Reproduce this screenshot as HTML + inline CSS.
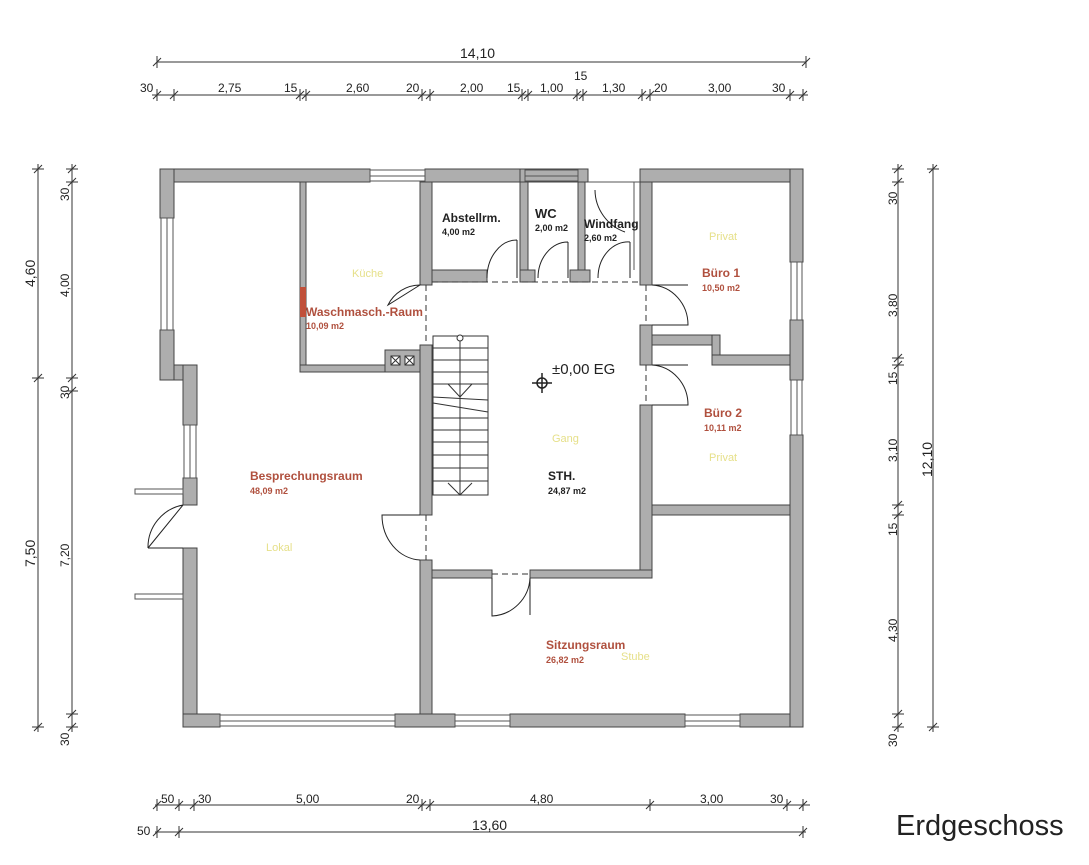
<!DOCTYPE html>
<html><head><meta charset="utf-8"><style>
html,body{margin:0;padding:0;background:#fff;}
svg{display:block;}
text{font-family:"Liberation Sans",Arial,sans-serif;}
</style></head><body>
<svg width="1089" height="865" viewBox="0 0 1089 865" xmlns="http://www.w3.org/2000/svg">
<rect width="1089" height="865" fill="#fff"/>
<g fill="#aeaeae" stroke="#444" stroke-width="1">
<rect x="160" y="169" width="210" height="13"/>
<rect x="425" y="169" width="100" height="13"/>
<rect x="520" y="169" width="68" height="13"/>
<rect x="640" y="169" width="163" height="13"/>
<rect x="160" y="169" width="14" height="49"/>
<rect x="160" y="330" width="14" height="50"/>
<rect x="174" y="365" width="23" height="15"/>
<rect x="183" y="365" width="14" height="60"/>
<rect x="183" y="478" width="14" height="27"/>
<rect x="183" y="548" width="14" height="179"/>
<rect x="183" y="714" width="37" height="13"/>
<rect x="395" y="714" width="60" height="13"/>
<rect x="510" y="714" width="175" height="13"/>
<rect x="740" y="714" width="63" height="13"/>
<rect x="790" y="169" width="13" height="93"/>
<rect x="790" y="320" width="13" height="60"/>
<rect x="790" y="435" width="13" height="292"/>
<rect x="300" y="182" width="6" height="190"/>
<rect x="300" y="365" width="120" height="7"/>
<rect x="385" y="350" width="35" height="22"/>
<rect x="420" y="182" width="12" height="103"/>
<rect x="420" y="345" width="12" height="170"/>
<rect x="420" y="560" width="12" height="154"/>
<rect x="520" y="182" width="8" height="100"/>
<rect x="578" y="182" width="7" height="100"/>
<rect x="432" y="270" width="55" height="12"/>
<rect x="520" y="270" width="15" height="12"/>
<rect x="570" y="270" width="20" height="12"/>
<rect x="640" y="182" width="12" height="103"/>
<rect x="640" y="325" width="12" height="40"/>
<rect x="640" y="405" width="12" height="173"/>
<rect x="652" y="335" width="68" height="10"/>
<rect x="712" y="335" width="8" height="30"/>
<rect x="712" y="355" width="78" height="10"/>
<rect x="652" y="505" width="138" height="10"/>
<rect x="432" y="570" width="60" height="8"/>
<rect x="530" y="570" width="122" height="8"/>
</g>
<rect x="300" y="287" width="6" height="30" fill="#c0503a"/>
<g fill="none" stroke="#555" stroke-width="1">
<rect x="370" y="170" width="55" height="11"/><line x1="370" y1="176" x2="425" y2="176"/>
<rect x="525" y="170" width="53" height="11"/><line x1="525" y1="176" x2="578" y2="176"/>
<rect x="161" y="218" width="12" height="112"/><line x1="167" y1="218" x2="167" y2="330"/>
<rect x="184" y="425" width="12" height="53"/><line x1="190" y1="425" x2="190" y2="478"/>
<rect x="220" y="715" width="175" height="11"/><line x1="220" y1="721" x2="395" y2="721"/>
<rect x="455" y="715" width="55" height="11"/><line x1="455" y1="721" x2="510" y2="721"/>
<rect x="685" y="715" width="55" height="11"/><line x1="685" y1="721" x2="740" y2="721"/>
<rect x="791" y="262" width="11" height="58"/><line x1="797" y1="262" x2="797" y2="320"/>
<rect x="791" y="380" width="11" height="55"/><line x1="797" y1="380" x2="797" y2="435"/>
<line x1="588" y1="182" x2="640" y2="182"/>
<line x1="634" y1="182" x2="634" y2="270"/>
<rect x="135" y="489" width="48" height="5"/>
<rect x="135" y="594" width="48" height="5"/>
</g>
<g fill="none" stroke="#222" stroke-width="1">
<path d="M183 505 L148 548 M183 505 A43 43 0 0 0 148 548"/>
<line x1="148" y1="548" x2="183" y2="548"/>
<path d="M420 285 L388 305 A36 36 0 0 1 420 285 Z" />
<path d="M517 240 L517 278 M517 240 A30 38 0 0 0 487 278"/>
<path d="M568 242 L568 278 M568 242 A30 36 0 0 0 538 278"/>
<path d="M630 242 L630 278 M630 242 A30 36 0 0 0 598 278"/>
<path d="M595 190 A45 45 0 0 0 625 232"/>
<path d="M652 285 L688 285 M652 285 A38 40 0 0 1 688 325 L652 325"/>
<path d="M652 365 L688 365 M652 365 A38 40 0 0 1 688 405 L652 405"/>
<path d="M420 515 L382 515 A40 45 0 0 0 420 560"/>
<path d="M530 578 L530 615 M530 578 A40 40 0 0 1 492 616 L492 578"/>
</g>
<g fill="none" stroke="#333" stroke-width="1" stroke-dasharray="6,4">
<line x1="432" y1="282" x2="640" y2="282"/>
<line x1="426" y1="285" x2="426" y2="345"/>
<line x1="426" y1="515" x2="426" y2="560"/>
<line x1="646" y1="285" x2="646" y2="325"/>
<line x1="646" y1="365" x2="646" y2="405"/>
<line x1="492" y1="574" x2="530" y2="574"/>
</g>
<g fill="#fff" stroke="#333" stroke-width="1">
<rect x="391" y="356" width="9" height="9"/><path d="M391 356 L400 365 M400 356 L391 365"/>
<rect x="405" y="356" width="9" height="9"/><path d="M405 356 L414 365 M414 356 L405 365"/>
</g>
<g fill="none" stroke="#333" stroke-width="1">
<rect x="433" y="336" width="55" height="159"/>
<path d="M433 348 H488 M433 360 H488 M433 372 H488 M433 384 H488 M433 403 L488 412 M433 397 L488 400 M433 418 H488 M433 430 H488 M433 442 H488 M433 455 H488 M433 468 H488 M433 481 H488"/>
<line x1="460" y1="340" x2="460" y2="495"/>
<circle cx="460" cy="338" r="3" fill="#fff"/>
<path d="M448 384 L460 397 L472 384 M448 483 L460 495 L472 483"/>
</g>
<g stroke="#222" stroke-width="1.5" fill="none"><circle cx="542" cy="383" r="5"/><path d="M532 383 H552 M542 373 V393"/></g>
<text x="552" y="374" font-size="15" fill="#222">±0,00 EG</text>
<g font-weight="bold">
<text x="442" y="222" font-size="12" fill="#222">Abstellrm.</text>
<text x="442" y="235" font-size="9" fill="#222">4,00 m2</text>
<text x="535" y="218" font-size="13" fill="#222">WC</text>
<text x="535" y="231" font-size="9" fill="#222">2,00 m2</text>
<text x="584" y="228" font-size="12" fill="#222">Windfang</text>
<text x="584" y="241" font-size="9" fill="#222">2,60 m2</text>
<text x="306" y="316" font-size="12" fill="#b0503e">Waschmasch.-Raum</text>
<text x="306" y="329" font-size="9" fill="#b0503e">10,09 m2</text>
<text x="702" y="277" font-size="12" fill="#b0503e">Büro 1</text>
<text x="702" y="291" font-size="9" fill="#b0503e">10,50 m2</text>
<text x="704" y="417" font-size="12" fill="#b0503e">Büro 2</text>
<text x="704" y="431" font-size="9" fill="#b0503e">10,11 m2</text>
<text x="250" y="480" font-size="12" fill="#b0503e">Besprechungsraum</text>
<text x="250" y="494" font-size="9" fill="#b0503e">48,09 m2</text>
<text x="548" y="480" font-size="12" fill="#222">STH.</text>
<text x="548" y="494" font-size="9" fill="#222">24,87 m2</text>
<text x="546" y="649" font-size="12" fill="#b0503e">Sitzungsraum</text>
<text x="546" y="663" font-size="9" fill="#b0503e">26,82 m2</text>
</g>
<g font-size="11" fill="#e6e08a">
<text x="352" y="277">Küche</text>
<text x="709" y="240">Privat</text>
<text x="709" y="461">Privat</text>
<text x="552" y="442">Gang</text>
<text x="266" y="551">Lokal</text>
<text x="621" y="660">Stube</text>
</g>
<g stroke="#333" stroke-width="1" fill="none">
<line x1="157" y1="62" x2="806" y2="62"/>
<line x1="152" y1="95" x2="808" y2="95"/>
<line x1="155" y1="805" x2="810" y2="805"/>
<line x1="155" y1="832" x2="806" y2="832"/>
<line x1="38" y1="164" x2="38" y2="732"/>
<line x1="72" y1="164" x2="72" y2="732"/>
<line x1="898" y1="164" x2="898" y2="732"/>
<line x1="933" y1="164" x2="933" y2="732"/>
<path d="M157 56V68M153 66L161 58 M806 56V68M802 66L810 58"/>
<path d="M157 89V101M153 99L161 91 M174 89V101M170 99L178 91 M300 89V101M296 99L304 91 M306 89V101M302 99L310 91 M422 89V101M418 99L426 91 M430 89V101M426 99L434 91 M522 89V101M518 99L526 91 M528 89V101M524 99L532 91 M577 89V101M573 99L581 91 M583 89V101M579 99L587 91 M642 89V101M638 99L646 91 M650 89V101M646 99L654 91 M790 89V101M786 99L794 91 M803 89V101M799 99L807 91"/>
<path d="M157 799V811M153 809L161 801 M179 799V811M175 809L183 801 M194 799V811M190 809L198 801 M422 799V811M418 809L426 801 M430 799V811M426 809L434 801 M650 799V811M646 809L654 801 M787 799V811M783 809L791 801 M803 799V811M799 809L807 801"/>
<path d="M157 826V838M153 836L161 828 M179 826V838M175 836L183 828 M803 826V838M799 836L807 828"/>
<path d="M32 169H44M34 173L42 165 M32 378H44M34 382L42 374 M32 727H44M34 731L42 723"/>
<path d="M66 169H78M68 173L76 165 M66 182H78M68 186L76 178 M66 378H78M68 382L76 374 M66 391H78M68 395L76 387 M66 714H78M68 718L76 710 M66 727H78M68 731L76 723"/>
<path d="M892 169H904M894 173L902 165 M892 182H904M894 186L902 178 M892 358H904M894 362L902 354 M892 365H904M894 369L902 361 M892 505H904M894 509L902 501 M892 515H904M894 519L902 511 M892 714H904M894 718L902 710 M892 727H904M894 731L902 723"/>
<path d="M927 169H939M929 173L937 165 M927 727H939M929 731L937 723"/>
</g>
<g font-size="12" fill="#222">
<text x="460" y="58" font-size="14">14,10</text>
<text x="140" y="92">30</text><text x="218" y="92">2,75</text><text x="284" y="92">15</text><text x="346" y="92">2,60</text><text x="406" y="92">20</text>
<text x="460" y="92">2,00</text><text x="507" y="92">15</text><text x="540" y="92">1,00</text><text x="574" y="80">15</text><text x="602" y="92">1,30</text>
<text x="654" y="92">20</text><text x="708" y="92">3,00</text><text x="772" y="92">30</text>
<text x="161" y="803">50</text><text x="198" y="803">30</text><text x="296" y="803">5,00</text><text x="406" y="803">20</text>
<text x="530" y="803">4,80</text><text x="700" y="803">3,00</text><text x="770" y="803">30</text>
<text x="137" y="835">50</text><text x="472" y="830" font-size="14">13,60</text>
</g>
<g font-size="12" fill="#222">
<text transform="translate(35,287) rotate(-90)" font-size="14">4,60</text>
<text transform="translate(35,567) rotate(-90)" font-size="14">7,50</text>
<text transform="translate(69,201) rotate(-90)">30</text>
<text transform="translate(69,297) rotate(-90)">4,00</text>
<text transform="translate(69,399) rotate(-90)">30</text>
<text transform="translate(69,567) rotate(-90)">7,20</text>
<text transform="translate(69,746) rotate(-90)">30</text>
<text transform="translate(897,205) rotate(-90)">30</text>
<text transform="translate(897,317) rotate(-90)">3,80</text>
<text transform="translate(897,385) rotate(-90)">15</text>
<text transform="translate(897,462) rotate(-90)">3,10</text>
<text transform="translate(897,536) rotate(-90)">15</text>
<text transform="translate(897,642) rotate(-90)">4,30</text>
<text transform="translate(897,747) rotate(-90)">30</text>
<text transform="translate(932,477) rotate(-90)" font-size="14">12,10</text>
</g>
<text x="896" y="835" font-size="29" fill="#222">Erdgeschoss</text>
</svg>
</body></html>
